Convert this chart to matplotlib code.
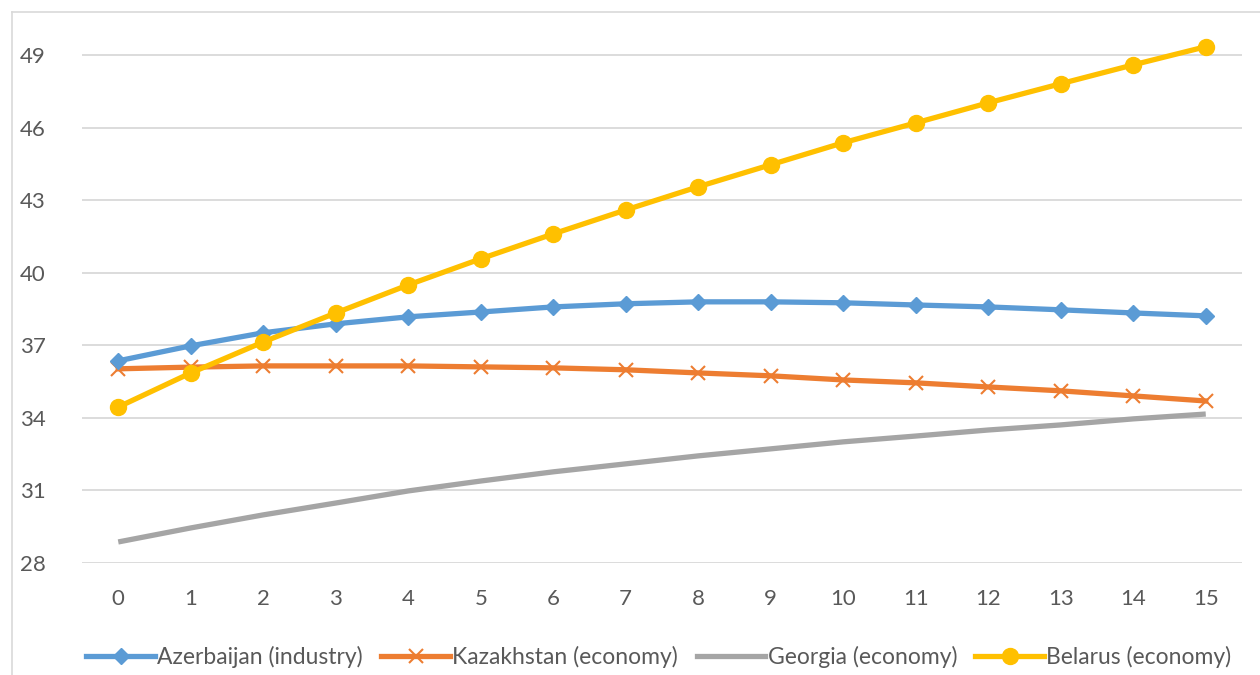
import matplotlib
matplotlib.use('Agg')
import matplotlib.pyplot as plt
from matplotlib.lines import Line2D

plt.rcParams['font.family'] = ['Lato', 'DejaVu Sans']

years = list(range(16))
azerbaijan = [36.36, 36.98, 37.52, 37.89, 38.18, 38.38, 38.59, 38.72,
              38.80, 38.80, 38.76, 38.67, 38.59, 38.47, 38.34, 38.22]
kazakhstan = [36.03, 36.10, 36.15, 36.15, 36.15, 36.11, 36.07, 35.99,
              35.86, 35.74, 35.57, 35.45, 35.28, 35.12, 34.91, 34.70]
georgia = [28.87, 29.45, 29.99, 30.48, 30.98, 31.39, 31.77, 32.10,
           32.43, 32.72, 33.01, 33.25, 33.50, 33.71, 33.96, 34.16]
belarus = [34.45, 35.86, 37.14, 38.34, 39.50, 40.58, 41.61, 42.60,
           43.56, 44.47, 45.38, 46.20, 47.03, 47.82, 48.60, 49.35]
y_ticks = [28, 31, 34, 37, 40, 43, 46, 49]

BLUE = '#5B9BD5'
ORANGE = '#ED7D31'
GREY = '#A5A5A5'
YELLOW = '#FFC000'
TEXT = '#595959'
GRID = '#D9D9D9'

fig = plt.figure(figsize=(12.6, 6.75), dpi=100)
ax = fig.add_axes([82 / 1260, 1 - 563 / 675, (1242 - 82) / 1260, (563 - 31) / 675])

ax.plot(years, georgia, color=GREY, lw=3.8, solid_capstyle='butt',
        label='Georgia (economy)', zorder=3)
ax.plot(years, kazakhstan, color=ORANGE, lw=3.8, marker='x', markersize=10,
        markeredgewidth=1.5, label='Kazakhstan (economy)', zorder=4)
ax.plot(years, azerbaijan, color=BLUE, lw=3.8, marker='D', markersize=8.5,
        label='Azerbaijan (industry)', zorder=5)
ax.plot(years, belarus, color=YELLOW, lw=3.8, marker='o', markersize=11.5,
        label='Belarus (economy)', zorder=6)

ax.set_xlim(-0.5, 15.5)
ax.set_ylim(28, 50)
ax.set_xticks(years)
ax.set_yticks(y_ticks)
ax.tick_params(axis='both', length=0, labelsize=16, colors=TEXT)
ax.tick_params(axis='x', pad=19)
ax.tick_params(axis='y', pad=26)
ax.grid(axis='y', color=GRID, lw=1.3)
ax.set_axisbelow(True)
for s in ax.spines.values():
    s.set_visible(False)

# legend in Excel order
handles = [
    Line2D([], [], color=BLUE, lw=3.8, marker='D', markersize=8.5),
    Line2D([], [], color=ORANGE, lw=3.8, marker='x', markersize=10, markeredgewidth=1.5),
    Line2D([], [], color=GREY, lw=3.8),
    Line2D([], [], color=YELLOW, lw=3.8, marker='o', markersize=11.5),
]
labels = ['Azerbaijan (industry)', 'Kazakhstan (economy)', 'Georgia (economy)', 'Belarus (economy)']
leg = fig.legend(handles, labels, loc='center', bbox_to_anchor=(0.523, 1 - 657 / 675),
                 ncol=4, frameon=False, fontsize=16.5, handlelength=3.0,
                 handletextpad=0.1, columnspacing=0.8)
for t in leg.get_texts():
    t.set_color(TEXT)

# chart border (left and top visible)
fig.add_artist(Line2D([12 / 1260, 12 / 1260], [0, 1 - 12 / 675], color=GRID, lw=1.2))
fig.add_artist(Line2D([12 / 1260, 1], [1 - 12 / 675, 1 - 12 / 675], color=GRID, lw=1.2))

fig.savefig('out.png', dpi=100)
